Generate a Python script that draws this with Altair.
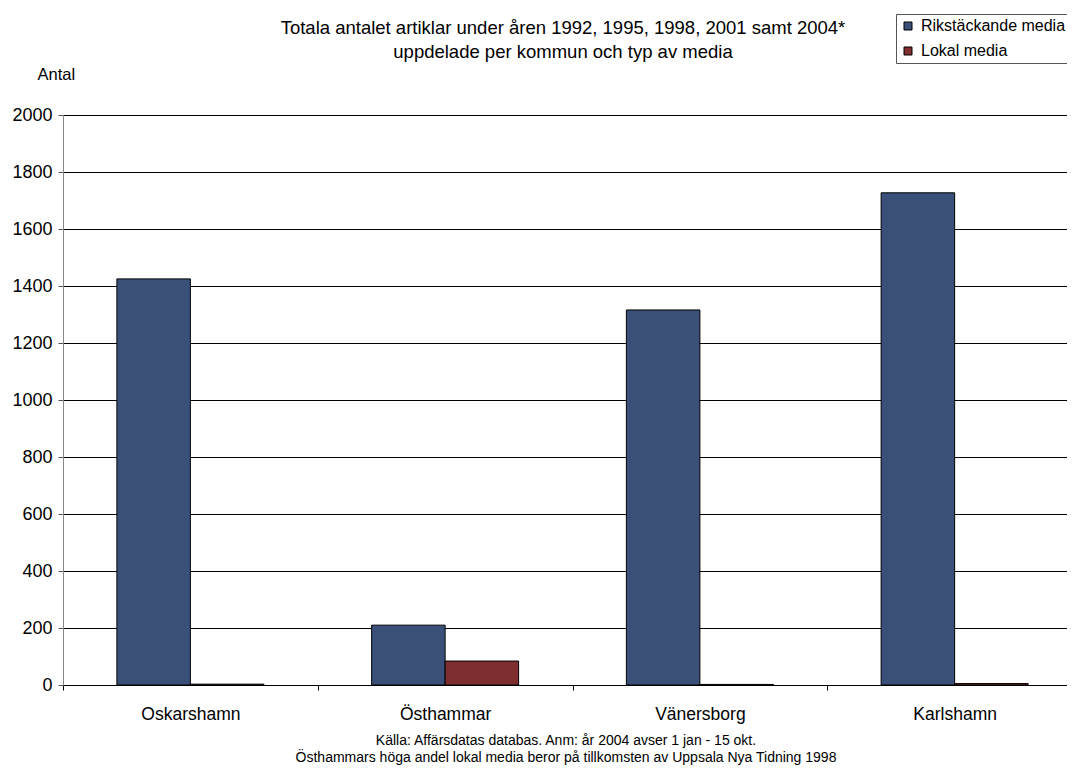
import altair as alt
import pandas as pd

kommuner = ["Oskarshamn", "Östhammar", "Vänersborg", "Karlshamn"]
rikstackande = [1425, 210, 1316, 1727]
lokal = [3, 84, 2, 5]
serier = ["Rikstäckande media", "Lokal media"]
farger = ["#3a5079", "#7e2e2e"]
y_ticks = [0, 200, 400, 600, 800, 1000, 1200, 1400, 1600, 1800, 2000]
titel = [
    "Totala antalet artiklar under åren 1992, 1995, 1998, 2001 samt 2004*",
    "uppdelade per kommun och typ av media",
]
kalla = [
    "Källa: Affärsdatas databas. Anm: år 2004 avser 1 jan - 15 okt.",
    "Östhammars höga andel lokal media beror på tillkomsten av Uppsala Nya Tidning 1998",
]

rows = []
for k, r, l in zip(kommuner, rikstackande, lokal):
    rows.append({"kommun": k, "typ": serier[0], "antal": r})
    rows.append({"kommun": k, "typ": serier[1], "antal": l})
df = pd.DataFrame(rows)

FONT = "Liberation Sans"

bars = alt.Chart(df).mark_bar(stroke="black", strokeWidth=1).encode(
    x=alt.X(
        "kommun:N",
        sort=kommuner,
        scale=alt.Scale(range=[0, 1019], paddingInner=0, paddingOuter=0),
        axis=alt.Axis(
            title=None, labelAngle=0, tickBand="extent", domainColor="black",
            tickColor="black", tickSize=5, labelFontSize=17.5, labelPadding=15,
            labelColor="black", grid=False,
        ),
    ),
    xOffset=alt.XOffset(
        "typ:N", sort=serier, scale=alt.Scale(paddingInner=0, paddingOuter=0.733)
    ),
    y=alt.Y(
        "antal:Q",
        scale=alt.Scale(domain=[0, 2000], nice=False),
        axis=alt.Axis(
            values=y_ticks, title="Antal", titleAngle=0, titleX=-26, titleY=-41,
            titleAlign="left", titleBaseline="middle", titleFontSize=16.5,
            titleFontWeight="normal", titleColor="black",
            gridColor="black", gridOpacity=1, domainColor="#888888",
            tickColor="#555555", tickSize=5, labelPadding=6, labelFontSize=18,
            labelColor="black", format="d",
        ),
    ),
    color=alt.Color(
        "typ:N",
        sort=serier,
        scale=alt.Scale(domain=serier, range=farger),
        legend=alt.Legend(
            title=None, orient="none", legendX=833, legendY=-101,
            strokeColor="#555555", fillColor="white", padding=4,
            symbolType="square", symbolSize=64, symbolStrokeColor="black",
            symbolStrokeWidth=1, symbolOpacity=1, labelFontSize=16,
            labelOffset=5, rowPadding=9, labelColor="black",
        ),
    ),
)


def text_layer(txt, x, y, size):
    return alt.Chart(pd.DataFrame({"t": [txt]})).mark_text(
        fontSize=size, align="center", baseline="middle", color="black"
    ).encode(x=alt.value(x), y=alt.value(y), text="t:N")


layers = [bars]
layers.append(text_layer(titel[0], 500, -87, 18.5))
layers.append(text_layer(titel[1], 500, -63, 18.5))
layers.append(text_layer(kalla[0], 503, 626, 14))
layers.append(text_layer(kalla[1], 503, 643, 14))

chart = alt.layer(*layers).properties(
    width=1004,
    height=570,
    padding={"left": 55, "top": 107, "right": 0, "bottom": 83},
    autosize=alt.AutoSizeParams(type="none"),
).configure(font=FONT).configure_view(strokeWidth=0)

chart.save("out.html", embed_options={"renderer": "svg", "actions": False})
